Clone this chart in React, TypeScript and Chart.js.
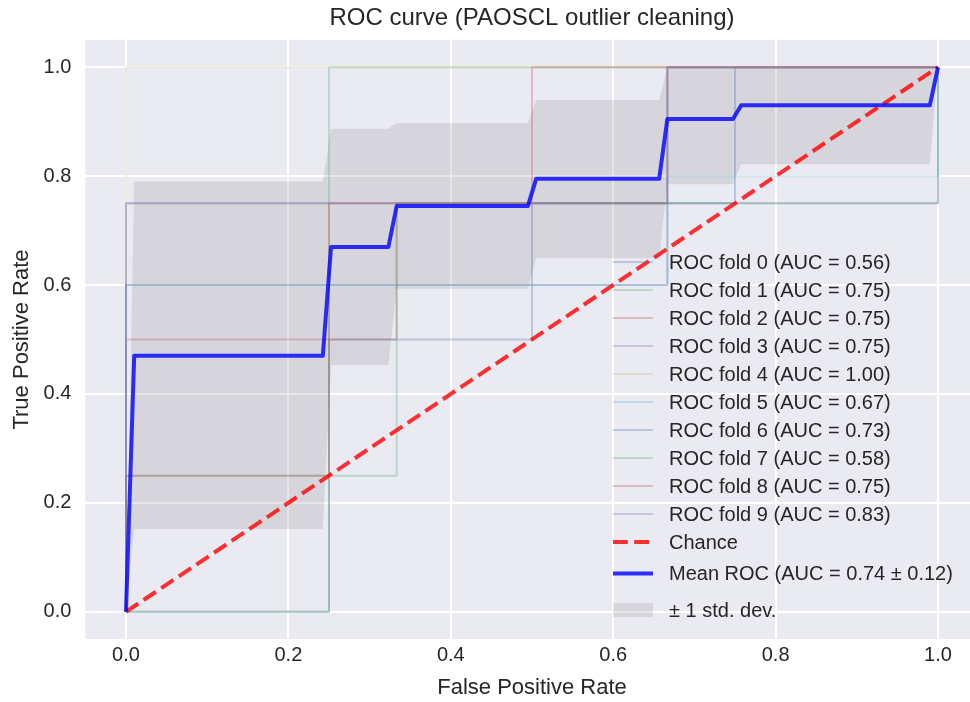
import React, { useEffect, useRef } from "react";
import { Chart, registerables } from "chart.js";

Chart.register(...registerables);

// ---- data -------------------------------------------------------------

const titleText = "ROC curve (PAOSCL outlier cleaning)";
const xLabel = "False Positive Rate";
const yLabel = "True Positive Rate";

const axisTicks = [0, 0.2, 0.4, 0.6, 0.8, 1.0];

// corner points of each cross-validation fold's ROC curve
const foldFpr: number[][] = [
  [0, 0.25, 0.25, 0.5, 0.5, 0.75, 0.75, 1],
  [0, 0.25, 0.25, 1],
  [0, 0, 0.3333, 0.3333, 0.6667, 0.6667, 1],
  [0, 0, 1, 1],
  [0, 0, 1],
  [0, 0, 0.6667, 0.6667, 1, 1],
  [0, 0, 0.6667, 0.6667, 1],
  [0, 0, 0.3333, 0.3333, 1, 1],
  [0, 0, 0.25, 0.25, 0.5, 0.5, 1],
  [0, 0, 0.6667, 0.6667, 1],
];
const foldTpr: number[][] = [
  [0, 0, 0.5, 0.5, 0.75, 0.75, 1, 1],
  [0, 0, 1, 1],
  [0, 0.5, 0.5, 0.75, 0.75, 1, 1],
  [0, 0.75, 0.75, 1],
  [0, 1, 1],
  [0, 0.6, 0.6, 0.8, 0.8, 1],
  [0, 0.6, 0.6, 1, 1],
  [0, 0.25, 0.25, 0.75, 0.75, 1],
  [0, 0.25, 0.25, 0.75, 0.75, 1, 1],
  [0, 0.75, 0.75, 1, 1],
];
const foldAuc = [0.56, 0.75, 0.75, 0.75, 1.0, 0.67, 0.73, 0.58, 0.75, 0.83];

// mean ROC and its ±1 std band, at the break points of the mean curve
const meanFpr = [0, 0.0101, 0.2424, 0.2525, 0.3232, 0.3333, 0.4949, 0.5051, 0.6566, 0.6667, 0.7475, 0.7576, 0.9899, 1];
const meanTpr = [0, 0.47, 0.47, 0.67, 0.67, 0.745, 0.745, 0.795, 0.795, 0.905, 0.905, 0.93, 0.93, 1];
const bandUpper = [0, 0.79, 0.79, 0.887, 0.887, 0.897, 0.897, 0.94, 0.94, 1, 1, 1, 1, 1];
const bandLower = [0, 0.152, 0.152, 0.453, 0.453, 0.593, 0.593, 0.649, 0.649, 0.785, 0.785, 0.822, 0.822, 1];
const meanAuc = 0.74;
const stdAuc = 0.12;

const chanceFpr = [0, 1];
const chanceTpr = [0, 1];

// ---- style ------------------------------------------------------------

const FONT = "'Liberation Sans', Arial, Helvetica, sans-serif";
const TEXT = "#262626";
const AXES_BG = "#EAEAF2";
const palette = ["76,114,176", "85,168,104", "196,78,82", "129,114,178", "204,185,116", "100,181,205"];

const pts = (xs: number[], ys: number[]) => xs.map((x, i) => ({ x, y: ys[i] }));

type Handle = "line" | "dash" | "patch";

const foldSets = foldFpr.map((xs, i) => ({
  label: `ROC fold ${i} (AUC = ${foldAuc[i].toFixed(2)})`,
  data: pts(xs, foldTpr[i]),
  borderColor: `rgba(${palette[i % palette.length]},0.3)`,
  borderWidth: 2,
  order: 100 - i,
  handle: "line" as Handle,
  legendRank: i,
}));

const datasets: any[] = [
  {
    data: pts(meanFpr, bandLower),
    borderColor: "rgba(0,0,0,0)",
    borderWidth: 0,
    fill: false,
    order: 1000,
  },
  {
    label: "\u00b1 1 std. dev.",
    data: pts(meanFpr, bandUpper),
    borderColor: "rgba(0,0,0,0)",
    borderWidth: 0,
    backgroundColor: "rgba(128,128,128,0.2)",
    fill: "-1",
    order: 999,
    handle: "patch" as Handle,
    legendRank: 12,
  },
  ...foldSets,
  {
    label: "Chance",
    data: pts(chanceFpr, chanceTpr),
    borderColor: "rgba(255,0,0,0.8)",
    borderWidth: 4,
    borderDash: [14.8, 6.4],
    order: 2,
    handle: "dash" as Handle,
    legendRank: 10,
  },
  {
    label: `Mean ROC (AUC = ${meanAuc.toFixed(2)} \u00b1 ${stdAuc.toFixed(2)})`,
    data: pts(meanFpr, meanTpr),
    borderColor: "rgba(0,0,255,0.8)",
    borderWidth: 4,
    order: 1,
    handle: "line" as Handle,
    legendRank: 11,
  },
];

// ---- plugins ----------------------------------------------------------

const backdrop = {
  id: "backdrop",
  beforeDraw(chart: any) {
    const { ctx, chartArea: a } = chart;
    ctx.save();
    ctx.fillStyle = "#ffffff";
    ctx.fillRect(0, 0, chart.width, chart.height);
    ctx.fillStyle = AXES_BG;
    ctx.fillRect(a.left, a.top, a.right - a.left, a.bottom - a.top);
    ctx.restore();
  },
};

// legend in the lower right corner of the axes, frameless
const rocLegend = {
  id: "rocLegend",
  afterDraw(chart: any) {
    const { ctx, chartArea: a } = chart;
    const items = chart.data.datasets
      .filter((d: any) => d.label)
      .sort((p: any, q: any) => p.legendRank - q.legendRank);
    const x0 = a.right - 365.6;
    const handleLen = 40;
    const textX = x0 + 56;
    const rowY = (k: number) => {
      if (k <= 10) return a.bottom - 377 + 28 * k;
      if (k === 11) return a.bottom - 65.5;
      return a.bottom - 29;
    };
    ctx.save();
    ctx.font = `20px ${FONT}`;
    ctx.textBaseline = "middle";
    ctx.textAlign = "left";
    items.forEach((d: any, k: number) => {
      const y = rowY(k);
      if (d.handle === "patch") {
        ctx.fillStyle = d.backgroundColor;
        ctx.fillRect(x0, y - 7, handleLen, 14);
      } else {
        ctx.beginPath();
        ctx.strokeStyle = d.borderColor;
        ctx.lineWidth = d.borderWidth;
        ctx.setLineDash(d.handle === "dash" ? d.borderDash : []);
        ctx.moveTo(x0, y);
        ctx.lineTo(x0 + handleLen, y);
        ctx.stroke();
        ctx.setLineDash([]);
      }
      ctx.fillStyle = TEXT;
      ctx.fillText(d.label, textX, y + 1);
    });
    ctx.restore();
  },
};

const setTicks = (scale: any) => {
  scale.ticks = axisTicks.map((v) => ({ value: v }));
};

// ---- component --------------------------------------------------------

export default function App() {
  const ref = useRef<HTMLCanvasElement>(null);

  useEffect(() => {
    if (!ref.current) return;
    const chart = new Chart(ref.current, {
      type: "line",
      data: { datasets },
      plugins: [backdrop, rocLegend],
      options: {
        responsive: false,
        devicePixelRatio: 1,
        animation: false,
        layout: { padding: { left: 0, right: 11.4, top: 0, bottom: 0 } },
        elements: {
          point: { radius: 0, hoverRadius: 0 },
          line: { tension: 0, fill: false, borderJoinStyle: "round", borderCapStyle: "butt" },
        },
        plugins: {
          legend: { display: false },
          tooltip: { enabled: false },
          title: {
            display: true,
            fullSize: false,
            text: titleText,
            color: TEXT,
            font: { family: FONT, size: 24, weight: "normal", lineHeight: 1.2 },
            padding: { top: 3.6, bottom: 7.6 },
          },
        },
        scales: {
          x: {
            type: "linear",
            min: -0.05,
            max: 1.05,
            afterBuildTicks: setTicks,
            afterFit: (s: any) => {
              s.height = 63;
            },
            grid: { color: "#ffffff", lineWidth: 2, drawTicks: false },
            border: { display: false },
            ticks: {
              color: TEXT,
              padding: 4,
              maxRotation: 0,
              font: { family: FONT, size: 20 },
              callback: (v: any) => Number(v).toFixed(1),
            },
            title: {
              display: true,
              text: xLabel,
              color: TEXT,
              font: { family: FONT, size: 22, lineHeight: 1.2 },
              padding: { top: 0, bottom: 0.8 },
            },
          },
          y: {
            type: "linear",
            min: -0.05,
            max: 1.05,
            afterBuildTicks: setTicks,
            afterFit: (s: any) => {
              s.width = 85.4;
            },
            grid: { color: "#ffffff", lineWidth: 2, drawTicks: false },
            border: { display: false },
            ticks: {
              color: TEXT,
              padding: 14,
              font: { family: FONT, size: 20 },
              callback: (v: any) => Number(v).toFixed(1),
            },
            title: {
              display: true,
              text: yLabel,
              color: TEXT,
              font: { family: FONT, size: 22, lineHeight: 1.2 },
              padding: { top: 8.8, bottom: 0 },
            },
          },
        },
      } as any,
    });
    return () => chart.destroy();
  }, []);

  return (
    <div
      style={{
        position: "fixed",
        left: 0,
        top: 0,
        width: 970,
        height: 702,
        overflow: "hidden",
        background: "#ffffff",
      }}
    >
      <canvas ref={ref} width={990} height={702} style={{ display: "block", width: 990, height: 702 }} />
    </div>
  );
}
